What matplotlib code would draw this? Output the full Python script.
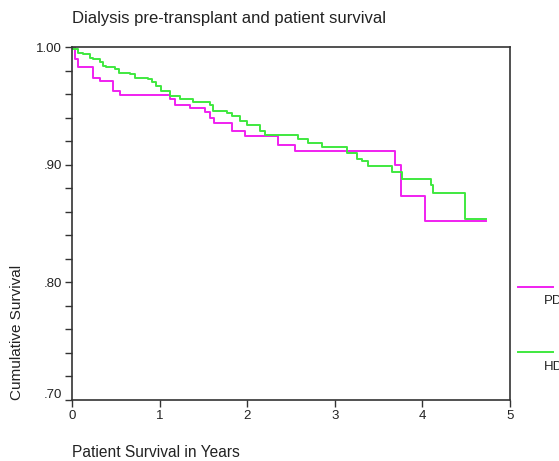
import numpy as np
import matplotlib
matplotlib.use("Agg")
import matplotlib.pyplot as plt
from matplotlib.lines import Line2D
from matplotlib.transforms import ScaledTranslation

plt.rcParams['font.family'] = ['Liberation Sans', 'DejaVu Sans']

# --- DATA (Kaplan-Meier steps) ---
pd_time = [0, 0.03, 0.07, 0.24, 0.32, 0.47, 0.55, 1.12, 1.18, 1.35, 1.52, 1.58,
           1.62, 1.83, 1.97, 2.35, 2.55, 3.69, 3.76, 4.03, 4.73]
pd_surv = [1.0, 0.990, 0.983, 0.974, 0.971, 0.963, 0.959, 0.956, 0.951, 0.948, 0.945,
           0.940, 0.935, 0.929, 0.924, 0.917, 0.912, 0.900, 0.873, 0.852, 0.852]

hd_time = [0, 0.01, 0.07, 0.13, 0.20, 0.24, 0.32, 0.35, 0.39, 0.49, 0.54, 0.66, 0.72,
           0.87, 0.91, 0.96, 1.02, 1.12, 1.23, 1.38, 1.58, 1.61, 1.77, 1.83, 1.92, 2.00,
           2.15, 2.20, 2.58, 2.69, 2.85, 3.14, 3.25, 3.31, 3.38, 3.65, 3.77, 4.10, 4.12,
           4.49, 4.73]
hd_surv = [1.0, 0.998, 0.995, 0.994, 0.991, 0.990, 0.987, 0.984, 0.983, 0.981, 0.978,
           0.977, 0.974, 0.973, 0.970, 0.967, 0.963, 0.958, 0.956, 0.953, 0.951, 0.946,
           0.944, 0.941, 0.937, 0.934, 0.929, 0.925, 0.922, 0.918, 0.915, 0.910, 0.905,
           0.903, 0.899, 0.894, 0.888, 0.883, 0.876, 0.854, 0.854]

groups = ["PD", "HD"]
colors = {"PD": "#f020f0", "HD": "#3fe83f"}
y_ticks = [0.70, 0.80, 0.90, 1.00]
y_labels = [".70", ".80", ".90", "1.00"]
x_ticks = [0, 1, 2, 3, 4, 5]

W, H = 559, 461
fig = plt.figure(figsize=(W / 100, H / 100), dpi=100)
ax = fig.add_axes([72 / W, 1 - 400 / H, (510 - 72) / W, (400 - 47) / H])

ax.step(pd_time, pd_surv, where="post", color=colors["PD"], lw=1.4)
ax.step(hd_time, hd_surv, where="post", color=colors["HD"], lw=1.4)

ax.set_xlim(0, 5)
ax.set_ylim(0.70, 1.00)
ax.set_xticks(x_ticks)
ax.set_xticklabels([str(v) for v in x_ticks], fontsize=9.5, color="#222")
ax.set_yticks(y_ticks)
ax.set_yticklabels(y_labels, fontsize=9.5, color="#222")
ax.set_yticks(np.arange(0.70, 1.001, 0.02), minor=True)
ax.tick_params(axis="both", which="both", direction="out", length=5, width=1, color="#333")
ax.tick_params(axis="x", pad=2)
ax.tick_params(axis="y", pad=2)
# bottom label sits a little above its tick
ax.get_yticklabels()[0].set_transform(
    ax.get_yticklabels()[0].get_transform() + ScaledTranslation(0, 7 / 100, fig.dpi_scale_trans))
for s in ax.spines.values():
    s.set_color("#333")
    s.set_linewidth(1.2)

fig.text(72 / W, 1 - 18 / H, "Dialysis pre-transplant and patient survival",
         fontsize=12, color="#222", ha="left", va="center")
fig.text(72 / W, 1 - 452 / H, "Patient Survival in Years",
         fontsize=11.2, color="#222", ha="left", va="center")
fig.text(17 / W, 1 - 332 / H, "Cumulative Survival", rotation=90,
         fontsize=11, color="#222", ha="center", va="center")

# legend at right edge (line above label)
for name, ly, ty in [("PD", 287, 301), ("HD", 352, 367)]:
    fig.add_artist(Line2D([518 / W, 553 / W], [1 - ly / H, 1 - ly / H],
                          color=colors[name], lw=1.4))
    fig.text(544 / W, 1 - ty / H, name, fontsize=9.5, color="#222", ha="left", va="center")

fig.savefig("out.png", dpi=100)
